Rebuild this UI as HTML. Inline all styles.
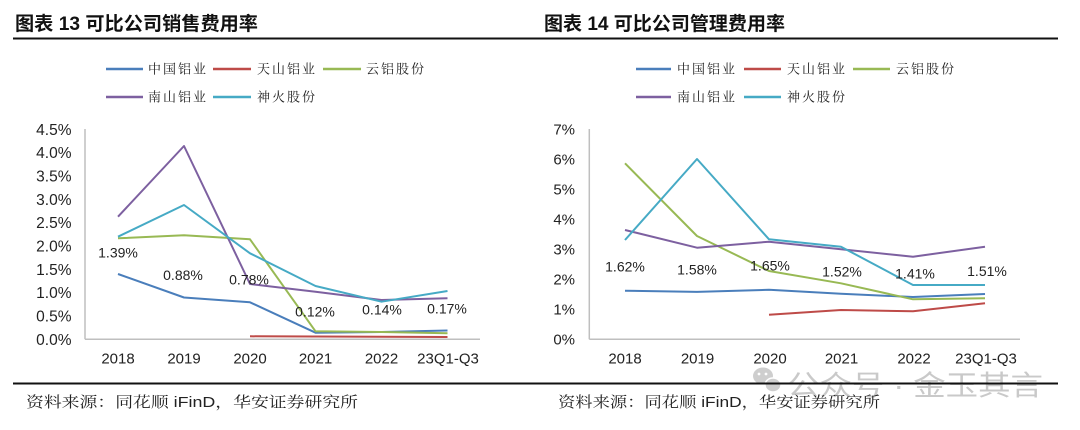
<!DOCTYPE html>
<html><head><meta charset="utf-8">
<style>
html,body{margin:0;padding:0;background:#fff;}
svg{display:block;}
.t{font-family:"Liberation Sans","Noto Sans CJK SC",sans-serif;font-weight:bold;font-size:19px;fill:#111;}
.lg{font-family:"Liberation Serif","Noto Serif CJK SC",serif;font-size:13px;fill:#222;letter-spacing:2px;}
.ax{font-family:"Liberation Sans",sans-serif;font-size:15.5px;fill:#222;}
.axr{font-family:"Liberation Sans",sans-serif;font-size:15px;fill:#222;}
.dl{font-family:"Liberation Sans",sans-serif;font-size:14px;fill:#222;}
.src{font-family:"Liberation Sans","Noto Serif CJK SC",serif;font-size:15px;fill:#222;}
.wm{font-family:"Liberation Sans","Noto Sans CJK SC",sans-serif;font-size:28px;fill:#c4c4c4;}
.s{fill:none;stroke-width:2;stroke-linejoin:round;}
</style></head>
<body>
<svg width="1080" height="430" viewBox="0 0 1080 430" xmlns="http://www.w3.org/2000/svg">
<rect width="1080" height="430" fill="#fff"/>
<!-- titles -->
<text class="t" x="15" y="30" textLength="243" lengthAdjust="spacingAndGlyphs">图表 13 可比公司销售费用率</text>
<text class="t" x="544" y="30" textLength="241" lengthAdjust="spacingAndGlyphs">图表 14 可比公司管理费用率</text>
<line x1="13" y1="38.5" x2="1058" y2="38.5" stroke="#111" stroke-width="2"/>

<!-- legends left -->
<g>
<line x1="106" y1="69" x2="143" y2="69" stroke="#4a7ebb" stroke-width="2.5"/>
<text class="lg" x="148" y="73.5">中国铝业</text>
<line x1="213" y1="69" x2="251" y2="69" stroke="#be4b48" stroke-width="2.5"/>
<text class="lg" x="257" y="73.5">天山铝业</text>
<line x1="323" y1="69" x2="361" y2="69" stroke="#98b954" stroke-width="2.5"/>
<text class="lg" x="366" y="73.5">云铝股份</text>
<line x1="106" y1="97" x2="143" y2="97" stroke="#7d60a0" stroke-width="2.5"/>
<text class="lg" x="148" y="101.5">南山铝业</text>
<line x1="213" y1="97" x2="251" y2="97" stroke="#46aac5" stroke-width="2.5"/>
<text class="lg" x="257" y="101.5">神火股份</text>
</g>
<!-- legends right -->
<g>
<line x1="636" y1="69" x2="671" y2="69" stroke="#4a7ebb" stroke-width="2.5"/>
<text class="lg" x="677" y="73.5">中国铝业</text>
<line x1="744" y1="69" x2="781" y2="69" stroke="#be4b48" stroke-width="2.5"/>
<text class="lg" x="787" y="73.5">天山铝业</text>
<line x1="853" y1="69" x2="890" y2="69" stroke="#98b954" stroke-width="2.5"/>
<text class="lg" x="896" y="73.5">云铝股份</text>
<line x1="636" y1="97" x2="671" y2="97" stroke="#7d60a0" stroke-width="2.5"/>
<text class="lg" x="677" y="101.5">南山铝业</text>
<line x1="744" y1="97" x2="781" y2="97" stroke="#46aac5" stroke-width="2.5"/>
<text class="lg" x="787" y="101.5">神火股份</text>
</g>

<!-- LEFT CHART axes -->
<line x1="85" y1="129" x2="85" y2="339.3" stroke="#bfbfbf" stroke-width="1.5"/>
<line x1="85" y1="339.3" x2="480" y2="339.3" stroke="#bfbfbf" stroke-width="1.5"/>
<g class="ax" text-anchor="end">
<text x="71.5" y="344.8">0.0%</text>
<text x="71.5" y="321.5">0.5%</text>
<text x="71.5" y="298.1">1.0%</text>
<text x="71.5" y="274.8">1.5%</text>
<text x="71.5" y="251.5">2.0%</text>
<text x="71.5" y="228.1">2.5%</text>
<text x="71.5" y="204.8">3.0%</text>
<text x="71.5" y="181.5">3.5%</text>
<text x="71.5" y="158.1">4.0%</text>
<text x="71.5" y="134.8">4.5%</text>
</g>
<g class="axr" text-anchor="middle">
<text x="118" y="363.5">2018</text>
<text x="184" y="363.5">2019</text>
<text x="250" y="363.5">2020</text>
<text x="315.5" y="363.5">2021</text>
<text x="381.5" y="363.5">2022</text>
<text x="448" y="363.5">23Q1-Q3</text>
</g>
<polyline class="s" stroke="#be4b48" points="250,336.3 315.5,336.5 381.5,336.8 447.5,337"/>
<polyline class="s" stroke="#4a7ebb" points="118,274 184,297.5 250,302.3 315.5,332.7 381.5,332 447.5,330.5"/>
<polyline class="s" stroke="#98b954" points="118,238.3 184,235.3 250,239.3 315.5,331.3 381.5,332 447.5,333.3"/>
<polyline class="s" stroke="#7d60a0" points="118,216.7 184,146 250,284 315.5,291.7 381.5,300 447.5,298.3"/>
<polyline class="s" stroke="#46aac5" points="118,236.7 184,205 250,253.3 315.5,286 381.5,301.7 447.5,291"/>
<g class="dl" text-anchor="middle">
<text x="118" y="257.7">1.39%</text>
<text x="183" y="280">0.88%</text>
<text x="249" y="284.3">0.78%</text>
<text x="315" y="316.7">0.12%</text>
<text x="382" y="314.3">0.14%</text>
<text x="447" y="313.7">0.17%</text>
</g>

<!-- RIGHT CHART axes -->
<line x1="589.3" y1="129" x2="589.3" y2="339.3" stroke="#bfbfbf" stroke-width="1.5"/>
<line x1="589.3" y1="339.3" x2="1020" y2="339.3" stroke="#bfbfbf" stroke-width="1.5"/>
<g class="axr" text-anchor="end">
<text x="575" y="344.6">0%</text>
<text x="575" y="314.6">1%</text>
<text x="575" y="284.6">2%</text>
<text x="575" y="254.6">3%</text>
<text x="575" y="224.6">4%</text>
<text x="575" y="194.6">5%</text>
<text x="575" y="164.6">6%</text>
<text x="575" y="134.6">7%</text>
</g>
<g class="axr" text-anchor="middle">
<text x="625" y="363.5">2018</text>
<text x="697.5" y="363.5">2019</text>
<text x="770" y="363.5">2020</text>
<text x="841.5" y="363.5">2021</text>
<text x="914" y="363.5">2022</text>
<text x="986" y="363.5">23Q1-Q3</text>
</g>
<polyline class="s" stroke="#be4b48" points="769,314.7 841,310 913,311.3 985,303.3"/>
<polyline class="s" stroke="#4a7ebb" points="625,290.7 697,291.9 769,289.8 841,293.7 913,297 985,294"/>
<polyline class="s" stroke="#98b954" points="625,163.3 697,236 769,271 841,283.3 913,299.3 985,298.3"/>
<polyline class="s" stroke="#7d60a0" points="625,230 697,247.7 769,241.7 841,249.3 913,256.7 985,246.7"/>
<polyline class="s" stroke="#46aac5" points="625,240 697,159 769,239.3 841,246.7 913,285 985,285"/>
<g class="dl" text-anchor="middle">
<text x="625" y="271.7">1.62%</text>
<text x="697" y="274.3">1.58%</text>
<text x="770" y="270.7">1.65%</text>
<text x="842" y="276.7">1.52%</text>
<text x="915" y="278.3">1.41%</text>
<text x="987" y="276">1.51%</text>
</g>

<!-- watermark -->
<g opacity="0.9">
<ellipse cx="763" cy="376" rx="10" ry="8.5" fill="#c9c9c9"/>
<ellipse cx="773" cy="385" rx="8" ry="7" fill="#c9c9c9" stroke="#fff" stroke-width="1.5"/>
<circle cx="759" cy="374" r="1.4" fill="#fff"/>
<circle cx="766" cy="374" r="1.4" fill="#fff"/>
<text class="wm" x="787" y="395" textLength="256" lengthAdjust="spacingAndGlyphs">公众号 · 金玉其言</text>
</g>

<!-- bottom rule -->
<line x1="13" y1="383.5" x2="1058" y2="383.5" stroke="#111" stroke-width="2"/>

<!-- sources -->
<text class="src" x="26" y="407" textLength="332" lengthAdjust="spacingAndGlyphs">资料来源：同花顺 iFinD，华安证券研究所</text>
<text class="src" x="558" y="407" textLength="322" lengthAdjust="spacingAndGlyphs">资料来源：同花顺 iFinD，华安证券研究所</text>
</svg>
</body></html>
